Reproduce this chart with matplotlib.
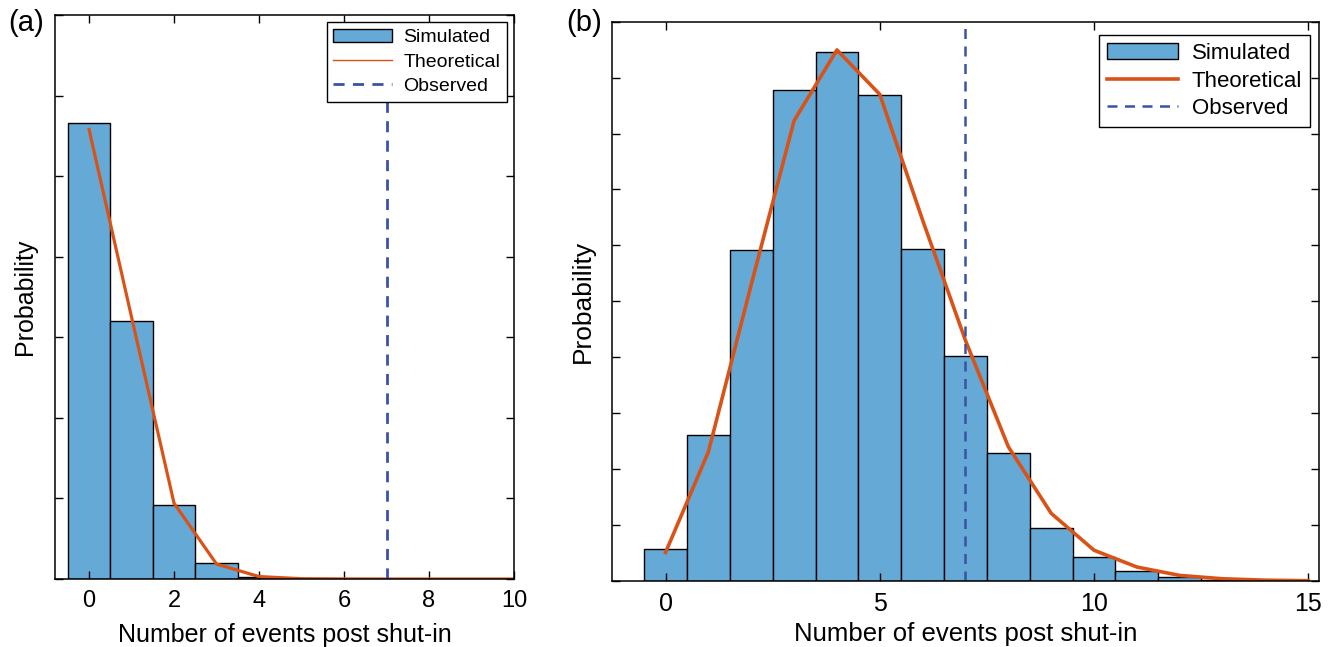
import numpy as np
import matplotlib.pyplot as plt
from matplotlib.lines import Line2D
from matplotlib.patches import Patch

plt.rcParams['font.family'] = ['Liberation Sans', 'DejaVu Sans']

# panel (a)
k_a = np.arange(0, 11)
sim_a = [0.5654, 0.3205, 0.0922, 0.0202, 0.003, 0.0003]
theo_a = [0.558, 0.325, 0.094, 0.0186, 0.003, 0.0004, 0.0001, 0.0, 0.0, 0.0, 0.0]

# panel (b)
k_b = np.arange(0, 16)
sim_b = [0.0113, 0.0523, 0.1185, 0.1755, 0.1893, 0.1737, 0.1188, 0.0805,
         0.0458, 0.019, 0.0087, 0.0035, 0.0013, 0.0003]
theo_b = [0.0102, 0.0462, 0.106, 0.1646, 0.1899, 0.174, 0.129, 0.086,
          0.048, 0.0242, 0.011, 0.005, 0.002, 0.0008, 0.0003, 0.0001]

observed = 7

bar_color = '#65A9D7'
line_color = '#D95319'
obs_color = '#3A53A4'

fig = plt.figure(figsize=(13.33, 6.47), dpi=100)

ax1 = fig.add_axes([0.0413, 0.1051, 0.3443, 0.8717])
ax2 = fig.add_axes([0.4591, 0.1020, 0.5304, 0.8645])


def style(ax, fs):
    ax.tick_params(direction='in', top=True, right=True, length=6, width=1,
                   labelsize=fs, pad=8)
    ax.set_yticklabels([])
    for s in ax.spines.values():
        s.set_linewidth(1.1)


# (a)
ax1.bar(np.arange(len(sim_a)), sim_a, width=1, color=bar_color,
        edgecolor='black', linewidth=1)
ax1.plot(k_a, theo_a, color=line_color, lw=2.3)
ax1.axvline(observed, color=obs_color, lw=2, ls=(0, (4, 3)))
ax1.set_xlim(-0.8, 10)
ax1.set_ylim(0, 0.7)
ax1.set_xticks([0, 2, 4, 6, 8, 10])
ax1.set_yticks(np.arange(0, 0.71, 0.1))
style(ax1, 17)
ax1.set_xlabel('Number of events post shut-in', fontsize=18, labelpad=8)
ax1.set_ylabel('Probability', fontsize=18, labelpad=5)
handles_a = [Patch(facecolor=bar_color, edgecolor='black', linewidth=1),
             Line2D([], [], color=line_color, lw=1),
             Line2D([], [], color=obs_color, lw=2, ls=(0, (4, 3)))]
ax1.legend(handles_a, ['Simulated', 'Theoretical', 'Observed'],
           loc='upper right', bbox_to_anchor=(0.985, 0.988), borderaxespad=0,
           fontsize=14, fancybox=False, edgecolor='black', framealpha=1,
           handlelength=3, labelspacing=0.35, borderpad=0.35,
           handletextpad=0.6).get_frame().set_linewidth(1)
fig.text(0.006, 0.965, '(a)', fontsize=21, va='center')

# (b)
ax2.bar(np.arange(len(sim_b)), sim_b, width=1, color=bar_color,
        edgecolor='black', linewidth=1)
ax2.plot(k_b, theo_b, color=line_color, lw=2.6)
ax2.axvline(observed, color=obs_color, lw=1.8, ls=(0, (4, 3)))
ax2.set_xlim(-1.25, 15.25)
ax2.set_ylim(0, 0.2)
ax2.set_xticks([0, 5, 10, 15])
ax2.set_yticks(np.arange(0, 0.201, 0.02))
style(ax2, 18)
ax2.set_xlabel('Number of events post shut-in', fontsize=18.5, labelpad=4)
ax2.set_ylabel('Probability', fontsize=19, labelpad=4)
handles_b = [Patch(facecolor=bar_color, edgecolor='black', linewidth=1),
             Line2D([], [], color=line_color, lw=2.6),
             Line2D([], [], color=obs_color, lw=1.8, ls=(0, (4, 3)))]
ax2.legend(handles_b, ['Simulated', 'Theoretical', 'Observed'],
           loc='upper right', bbox_to_anchor=(0.987, 0.976), borderaxespad=0,
           fontsize=16, fancybox=False, edgecolor='black', framealpha=1,
           handlelength=3.2, labelspacing=0.3, borderpad=0.35,
           handletextpad=0.6).get_frame().set_linewidth(1)
fig.text(0.425, 0.965, '(b)', fontsize=21, va='center')

fig.savefig('out.png', dpi=100)
